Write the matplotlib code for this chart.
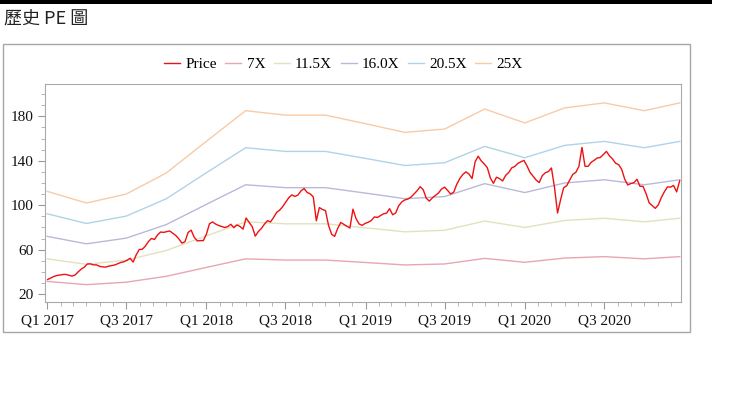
import pandas as pd
import matplotlib.pyplot as plt
import matplotlib.dates as mdates
from matplotlib.patches import Rectangle
from matplotlib.ticker import MultipleLocator, FuncFormatter

plt.rcParams['font.family'] = ['Liberation Serif', 'DejaVu Serif']

# weekly closing price
price_start = "2017-01-02"
price = [
    33.2, 34.6, 35.9, 36.8, 37.3, 37.7, 37.8, 37.1, 36.3, 37.3,
    40.1, 42.5, 44.3, 47.2, 47.3, 46.4, 46.4, 45.1, 44.6, 44.4,
    45.2, 45.8, 46.3, 47.5, 48.6, 49.2, 50.5, 52.3, 48.9, 55.3,
    60.2, 60.4, 63.2, 67.3, 70.1, 69.2, 73.3, 75.9, 75.6, 76.3,
    76.9, 74.8, 72.7, 69.7, 65.9, 67.3, 75.5, 77.6, 71.3, 67.9,
    68.2, 68.2, 74.0, 83.3, 85.0, 83.1, 81.8, 80.9, 80.0, 80.8,
    82.9, 79.8, 82.3, 80.9, 78.5, 88.5, 84.7, 80.8, 72.2, 76.3,
    79.1, 83.0, 86.1, 85.0, 89.0, 93.6, 95.6, 98.8, 102.9, 106.8,
    109.3, 107.9, 109.2, 113.0, 115.0, 111.5, 110.2, 107.5, 86.0, 97.9,
    96.2, 95.2, 81.8, 74.0, 72.0, 79.2, 84.5, 82.8, 81.2, 79.5,
    96.5, 88.0, 83.2, 81.9, 83.7, 84.7, 86.2, 89.5, 89.0, 90.6,
    92.3, 92.9, 96.9, 91.4, 93.1, 99.6, 103.0, 104.8, 105.6, 107.3,
    110.1, 113.0, 116.7, 114.0, 106.3, 103.7, 106.6, 108.8, 111.0, 114.5,
    116.3, 113.3, 110.1, 111.8, 118.9, 124.0, 127.7, 130.0, 128.0, 124.0,
    139.0, 144.1, 139.9, 137.1, 133.7, 124.5, 119.7, 125.2, 123.9, 121.8,
    126.8, 129.4, 133.6, 134.9, 137.6, 139.1, 140.3, 135.3, 129.5, 126.0,
    122.6, 120.4, 126.6, 129.2, 130.3, 133.5, 116.0, 93.0, 105.0, 115.7,
    117.6, 122.7, 127.8, 129.6, 135.0, 152.0, 135.0, 135.0, 138.6, 140.4,
    142.5, 142.9, 145.6, 148.4, 144.4, 141.6, 137.8, 136.5, 132.3, 123.4,
    118.2, 119.5, 120.2, 123.4, 117.0, 117.0, 110.3, 102.2, 99.7, 97.2,
    100.3, 107.0, 112.2, 116.5, 116.3, 117.8, 112.0, 122.0,
]

# PE bands (quarterly)
band_dates = [
    "2017-01-01", "2017-04-01", "2017-07-01", "2017-10-01",
    "2018-01-01", "2018-04-01", "2018-07-01", "2018-10-01",
    "2019-01-01", "2019-04-01", "2019-07-01", "2019-10-01",
    "2020-01-01", "2020-04-01", "2020-07-01", "2020-10-01", "2020-12-21",
]
band_7x = [31.5, 28.6, 30.8, 36.1, 44.1, 51.8, 50.7, 50.7, 48.5,
           46.3, 47.2, 52.2, 48.7, 52.5, 53.8, 51.8, 53.8]
band_11_5x = [51.8, 46.9, 50.6, 59.3, 72.5, 85.1, 83.3, 83.3, 79.7,
              76.1, 77.5, 85.8, 80.0, 86.3, 88.3, 85.1, 88.3]
band_16x = [72.0, 65.3, 70.4, 82.6, 100.8, 118.4, 115.8, 115.8, 110.9,
            105.9, 107.8, 119.4, 111.4, 120.0, 122.9, 118.4, 122.9]
band_20_5x = [92.3, 83.6, 90.2, 105.8, 129.2, 151.7, 148.4, 148.4, 142.1,
              135.7, 138.2, 152.9, 142.7, 153.8, 157.4, 151.7, 157.4]
band_25x = [112.5, 102.0, 110.0, 129.0, 157.5, 185.0, 181.0, 181.0, 173.3,
            165.5, 168.5, 186.5, 174.0, 187.5, 192.0, 185.0, 192.0]
y_ticks = [20, 60, 100, 140, 180]

dates = pd.date_range(price_start, periods=len(price), freq="7D")
bdates = pd.to_datetime(band_dates)

fig = plt.figure(figsize=(7.4, 3.97), dpi=100)

# page decorations: black rule, title, chart frame
fig.add_artist(Rectangle((0, 393 / 397), 712 / 740, 4 / 397, transform=fig.transFigure,
                         facecolor="black", edgecolor="none"))
fig.text(4 / 740, 377 / 397, "歷史 PE 圖", fontsize=13, color="#222222",
         family=["Noto Sans CJK TC", "DejaVu Sans"], va="center", ha="left")
fig.add_artist(Rectangle((3 / 740, 65 / 397), 687 / 740, 288 / 397, transform=fig.transFigure,
                         fill=False, edgecolor="#a6a6a6", lw=1))

ax = fig.add_axes([45 / 740, 95 / 397, 636 / 740, 218 / 397])

ax.plot(bdates, band_7x, color="#e8a6b2", lw=1, label="7X")
ax.plot(bdates, band_11_5x, color="#e2e2be", lw=1, label="11.5X")
ax.plot(bdates, band_16x, color="#b9b9d9", lw=1, label="16.0X")
ax.plot(bdates, band_20_5x, color="#b0d3e8", lw=1, label="20.5X")
ax.plot(bdates, band_25x, color="#f7cba8", lw=1, label="25X")
ax.plot(dates, price, color="#ee1111", lw=1, label="Price")

ax.set_xlim(pd.Timestamp("2016-12-27"), pd.Timestamp("2020-12-24"))
ax.set_ylim(13, 209)

ax.set_yticks(y_ticks)
ax.yaxis.set_minor_locator(MultipleLocator(10))
ax.xaxis.set_major_locator(mdates.MonthLocator(bymonth=[1, 7]))
ax.xaxis.set_minor_locator(mdates.MonthLocator())


def quarter_label(x, pos):
    d = mdates.num2date(x)
    return f"Q{(d.month - 1) // 3 + 1} {d.year}"


ax.xaxis.set_major_formatter(FuncFormatter(quarter_label))

for s in ax.spines.values():
    s.set_color("#aaaaaa")
    s.set_linewidth(0.8)
ax.tick_params(which="major", length=5, color="#999999", labelsize=11, labelcolor="#111111")
ax.tick_params(which="minor", length=3, color="#aaaaaa")
ax.tick_params(axis="x", pad=4)

handles, labels = ax.get_legend_handles_labels()
order = [5, 0, 1, 2, 3, 4]
fig.legend([handles[i] for i in order], [labels[i] for i in order],
           loc="center", bbox_to_anchor=(343.5 / 740, 333 / 397), ncol=6, frameon=False,
           fontsize=11, handlelength=1.05, handletextpad=0.35, columnspacing=0.55)

fig.savefig("out.png", dpi=100)
